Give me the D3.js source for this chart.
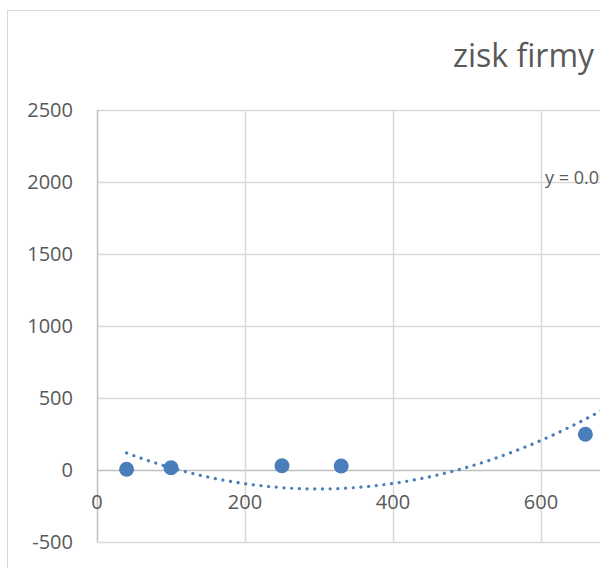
<!DOCTYPE html>
<html>
<head>
<meta charset="utf-8">
<script src="https://cdn.jsdelivr.net/npm/d3@7"></script>
<style>
  html, body { margin: 0; padding: 0; background: #fff; }
  svg { display: block; font-family: "Open Sans", "Noto Sans", sans-serif; }
</style>
</head>
<body>
<svg id="chart" width="600" height="568"></svg>
<script>
// ---- data ----
const title = "zisk firmy";
const xValues = [40, 100, 250, 330, 660];
const yValues = [5, 16, 30, 28, 248];
const xGrid = [0, 200, 400, 600, 800];
const xTickLabels = [0, 200, 400, 600];
const yTicks = [-500, 0, 500, 1000, 1500, 2000, 2500];
// polynomial (order 2) trendline coefficients: y = a*x^2 + b*x + c
const trendCoef = [0.00372, -2.2245, 201.0];
const trendRange = [40, 800];
const equationLabel = "y = 0.0037x² - 2.2245x + 201";

// ---- layout ----
const svg = d3.select("#chart");
const plot = { left: 97, top: 110, right: 689, bottom: 542 };

const x = d3.scaleLinear().domain([0, 800]).range([plot.left, plot.right]);
const y = d3.scaleLinear().domain([-500, 2500]).range([plot.bottom, plot.top]);

// chart border (cropped on right)
svg.append("rect")
  .attr("x", 7.5).attr("y", 10.5)
  .attr("width", 800).attr("height", 700)
  .attr("fill", "#fff").attr("stroke", "#d9d9d9").attr("stroke-width", 1);

// title
svg.append("text")
  .attr("x", 453).attr("y", 67)
  .attr("fill", "#595959")
  .attr("font-size", 32)
  .text(title);

// horizontal gridlines
svg.append("g")
  .selectAll("line")
  .data(yTicks)
  .join("line")
  .attr("x1", plot.left).attr("x2", plot.right)
  .attr("y1", d => Math.round(y(d)) + 0.5).attr("y2", d => Math.round(y(d)) + 0.5)
  .attr("stroke", d => d === 0 ? "#bfbfbf" : "#d9d9d9")
  .attr("stroke-width", 1.5);

// vertical gridlines
svg.append("g")
  .selectAll("line")
  .data(xGrid)
  .join("line")
  .attr("x1", d => Math.round(x(d)) + 0.5).attr("x2", d => Math.round(x(d)) + 0.5)
  .attr("y1", plot.top).attr("y2", plot.bottom)
  .attr("stroke", d => d === 0 ? "#bfbfbf" : "#d9d9d9")
  .attr("stroke-width", 1.5);

// y tick labels
svg.append("g")
  .selectAll("text")
  .data(yTicks)
  .join("text")
  .attr("x", 73)
  .attr("y", d => y(d))
  .attr("dy", "0.35em")
  .attr("text-anchor", "end")
  .attr("fill", "#595959")
  .attr("font-size", 20)
  .text(d => d);

// x tick labels (next to the axis crossing at y=0)
svg.append("g")
  .selectAll("text")
  .data(xTickLabels)
  .join("text")
  .attr("x", d => x(d))
  .attr("y", y(0) + 32)
  .attr("dy", "0.35em")
  .attr("text-anchor", "middle")
  .attr("fill", "#595959")
  .attr("font-size", 20)
  .text(d => d);

// clip for plot area
svg.append("clipPath").attr("id", "plotClip")
  .append("rect")
  .attr("x", plot.left).attr("y", plot.top)
  .attr("width", plot.right - plot.left).attr("height", plot.bottom - plot.top);

const color = "#4a7ebb";

// data points
const pts = xValues.map((v, i) => ({ x: v, y: yValues[i] }));
svg.append("g")
  .selectAll("circle")
  .data(pts)
  .join("circle")
  .attr("cx", d => x(d.x))
  .attr("cy", d => y(d.y))
  .attr("r", 7.5)
  .attr("fill", color);

// trendline
const poly = t => trendCoef[0] * t * t + trendCoef[1] * t + trendCoef[2];
const trendPts = d3.range(trendRange[0], trendRange[1] + 1, 2).map(t => [t, poly(t)]);
svg.append("path")
  .datum(trendPts)
  .attr("clip-path", "url(#plotClip)")
  .attr("d", d3.line().x(d => x(d[0])).y(d => y(d[1])))
  .attr("fill", "none")
  .attr("stroke", color)
  .attr("stroke-width", 3.2)
  .attr("stroke-linecap", "round")
  .attr("stroke-dasharray", "0.1 7.6");

// trendline equation label (cut off by the chart's crop, as in the reference)
svg.append("text")
  .attr("x", 545).attr("y", 184)
  .attr("fill", "#595959")
  .attr("font-size", 18)
  .text(equationLabel);
</script>
</body>
</html>
